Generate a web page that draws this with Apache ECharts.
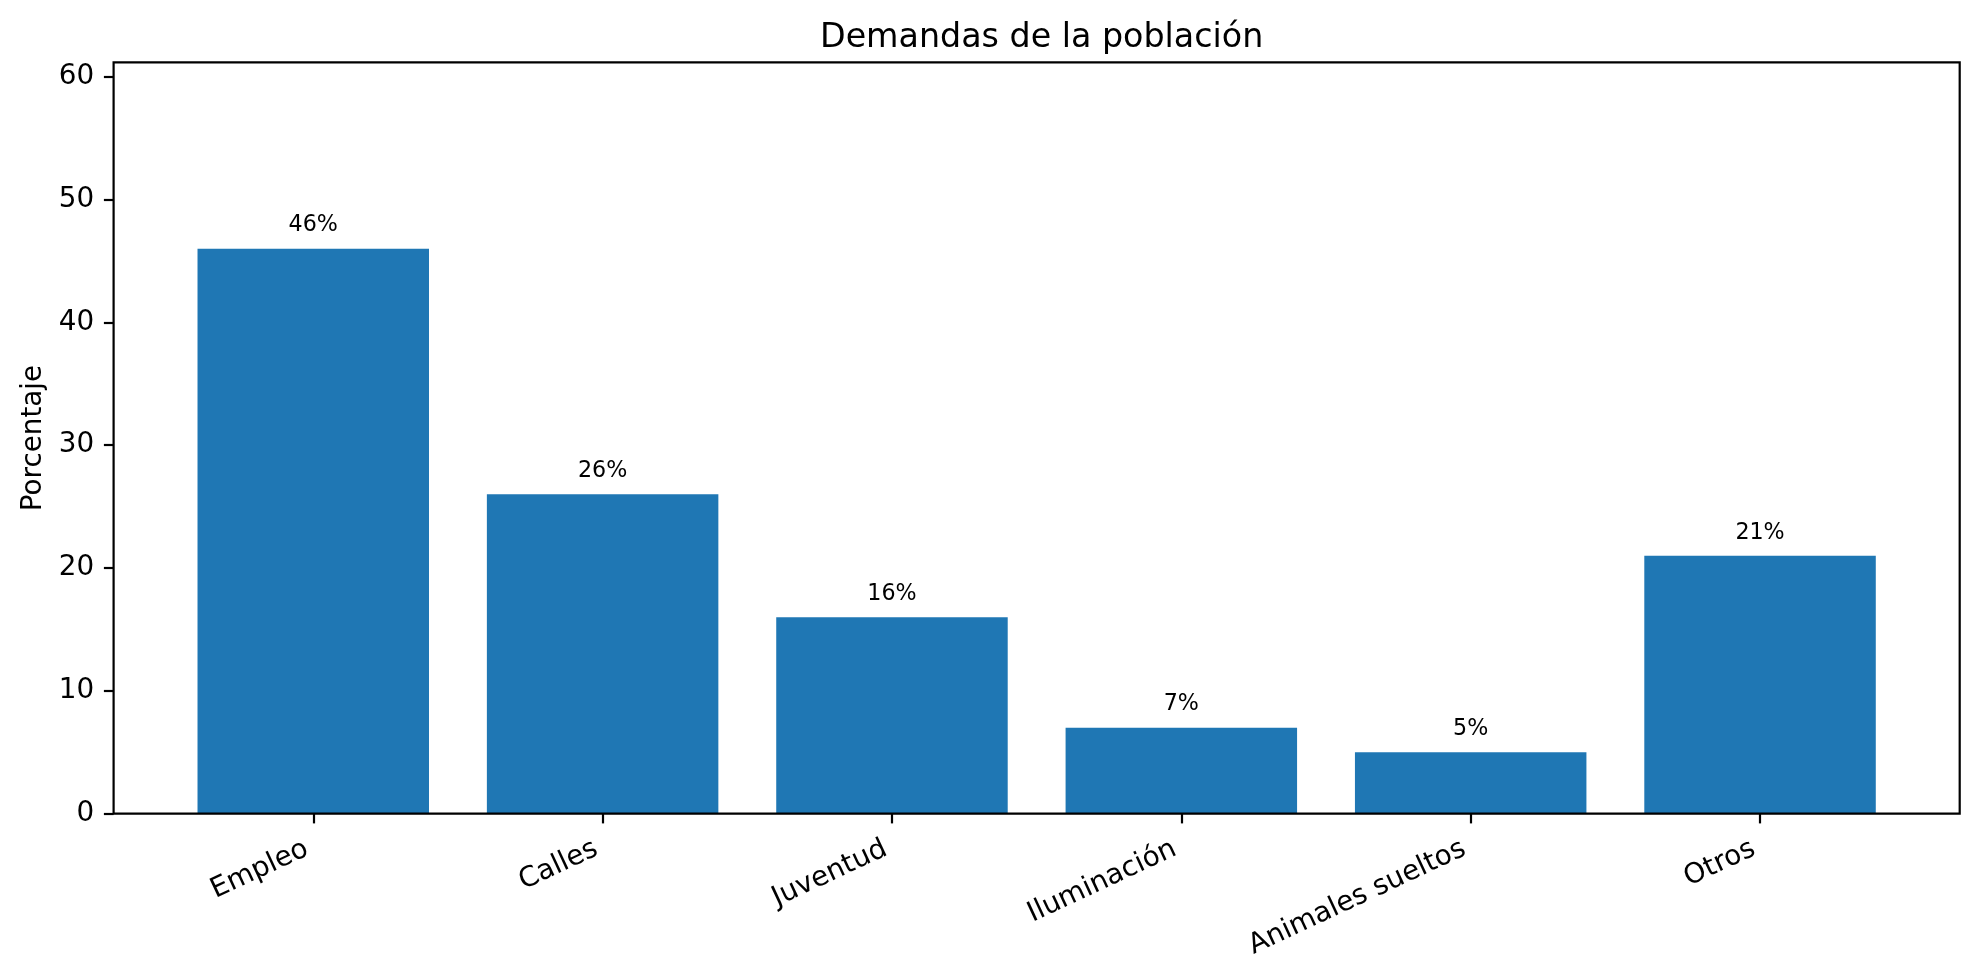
<!DOCTYPE html>
<html>
<head>
<meta charset="utf-8">
<script src="https://cdn.jsdelivr.net/npm/echarts@6/dist/echarts.min.js"></script>
<style>
html,body{margin:0;padding:0;background:#fff;}
#chart{width:1980px;height:978px;}
</style>
</head>
<body>
<div id="chart"></div>
<script>
// ---- data ----
var categories = ['Empleo', 'Calles', 'Juventud', 'Iluminación', 'Animales sueltos', 'Otros'];
var values = [46, 26, 16, 7, 5, 21];
var yTicks = [0, 10, 20, 30, 40, 50, 60];
var yMax = 61.18;
var titleText = 'Demandas de la población';
var yName = 'Porcentaje';

// ---- layout ----
var W = 1980, H = 978;
var frameLeft = 113.6, frameRight = 1959.7, frameTop = 62.3, frameBottom = 813.7;
var n = categories.length;
var span = (n - 1) + 0.8 + 2 * 0.05 * ((n - 1) + 0.8); // matplotlib x-limits span in category units
var unit = (frameRight - frameLeft) / span;
var inset = ((span - n) / 2) * unit;
var font = 'DejaVu Sans';

var chart = echarts.init(document.getElementById('chart'), null, {renderer: 'canvas'});
chart.setOption({
  backgroundColor: '#ffffff',
  animation: false,
  title: {
    text: titleText,
    left: (frameLeft + frameRight) / 2,
    textAlign: 'center',
    top: 13,
    textStyle: {fontFamily: font, fontSize: 33.3, fontWeight: 'normal', color: '#000', lineHeight: 40}
  },
  grid: [
    {
      left: frameLeft, top: frameTop, width: frameRight - frameLeft, height: frameBottom - frameTop,
      show: true, borderColor: '#000', borderWidth: 2.2, backgroundColor: 'transparent', z: 5,
      containLabel: false
    },
    {
      left: frameLeft + inset, top: frameTop, width: (frameRight - frameLeft) - 2 * inset, height: frameBottom - frameTop,
      containLabel: false
    }
  ],
  xAxis: [
    {
      type: 'category', gridIndex: 1, data: categories, boundaryGap: true,
      axisLine: {show: false},
      axisTick: {show: true, alignWithLabel: true, length: 9.7, lineStyle: {color: '#000', width: 2.2}},
      axisLabel: {
        show: true, interval: 0, rotate: 25, margin: 31, color: '#000',
        fontFamily: font, fontSize: 27.8, padding: [0, 7, 0, 0]
      },
      splitLine: {show: false}
    },
    {
      type: 'value', gridIndex: 0, min: 0, max: 1, show: false
    }
  ],
  yAxis: [
    {
      type: 'value', gridIndex: 0, min: 0, max: yMax,
      name: yName, nameLocation: 'middle', nameGap: 60, nameRotate: 90,
      nameTextStyle: {fontFamily: font, fontSize: 27.8, color: '#000'},
      axisLine: {show: false},
      axisTick: {show: true, length: 9.7, lineStyle: {color: '#000', width: 2.2}, customValues: yTicks},
      axisLabel: {show: true, margin: 19.4, color: '#000', fontFamily: font, fontSize: 27.8, customValues: yTicks},
      splitLine: {show: false}
    },
    {
      type: 'value', gridIndex: 1, min: 0, max: yMax, show: false
    }
  ],
  series: [
    {
      type: 'bar', xAxisIndex: 0, yAxisIndex: 1, data: values,
      barCategoryGap: '20%',
      itemStyle: {color: '#1f77b4'},
      label: {
        show: true, position: 'top', distance: 12, formatter: '{c}%',
        fontFamily: font, fontSize: 22.2, color: '#000', lineHeight: 22
      }
    }
  ]
});
</script>
</body>
</html>
